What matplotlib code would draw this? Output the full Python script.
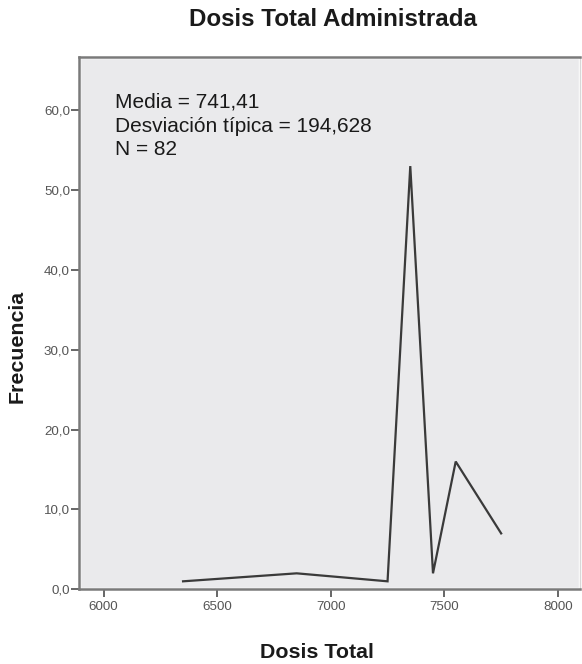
import matplotlib
matplotlib.use("Agg")
import matplotlib.pyplot as plt
from matplotlib.ticker import FuncFormatter

# Data
dosis = [6350, 6850, 7250, 7350, 7450, 7550, 7750]
frecuencia = [1, 2, 1, 53, 2, 16, 7]
x_ticks = [6000, 6500, 7000, 7500, 8000]
y_ticks = [0, 10, 20, 30, 40, 50, 60]
stats_lines = ["Media = 741,41", "Desviación típica = 194,628", "N = 82"]

plt.rcParams['font.family'] = ['Liberation Sans', 'DejaVu Sans']

fig = plt.figure(figsize=(5.82, 6.64), dpi=100)
W, H = 582, 664
ax = fig.add_axes([79 / W, 1 - 589.3 / H, (580 - 79) / W, (589.3 - 56.7) / H])

ax.set_facecolor('#EAEAEC')
ax.patch.set_edgecolor('white')
ax.patch.set_linewidth(2.5)

ax.plot(dosis, frecuencia, color='#3a3a3a', linewidth=1.6, solid_joinstyle='miter')

ax.set_xlim(5892, 8097)
ax.set_ylim(0, 66.7)
ax.set_xticks(x_ticks)
ax.set_yticks(y_ticks)
ax.yaxis.set_major_formatter(FuncFormatter(lambda v, p: f"{v:.1f}".replace('.', ',')))

for s in ['left', 'bottom', 'top']:
    ax.spines[s].set_color('#7a7a7a')
    ax.spines[s].set_linewidth(1.8)
ax.spines['right'].set_color('#d8d8d8')
ax.spines['right'].set_linewidth(1.0)

ax.tick_params(axis='both', colors='#666666', labelcolor='#555555', labelsize=9.6,
               length=5.5, width=1.4, direction='out')
ax.tick_params(axis='x', pad=3)
ax.tick_params(axis='y', pad=1)

# Title and axis labels
fig.text(333 / W, 1 - 19 / H, "Dosis Total Administrada", ha='center', va='center',
         fontsize=17.4, fontweight='bold', color='#1a1a1a')
fig.text(316.7 / W, 1 - 652 / H, "Dosis Total", ha='center', va='center',
         fontsize=15.4, fontweight='bold', color='#1a1a1a')
fig.text(16.7 / W, 1 - 346 / H, "Frecuencia", ha='center', va='center', rotation=90,
         fontsize=15.4, fontweight='bold', color='#1a1a1a')

# Stats annotation
fig.text(115 / W, 1 - 93 / H, "\n".join(stats_lines), ha='left', va='top',
         fontsize=15, color='#1a1a1a', linespacing=1.3)

fig.savefig("out.png", dpi=100)
